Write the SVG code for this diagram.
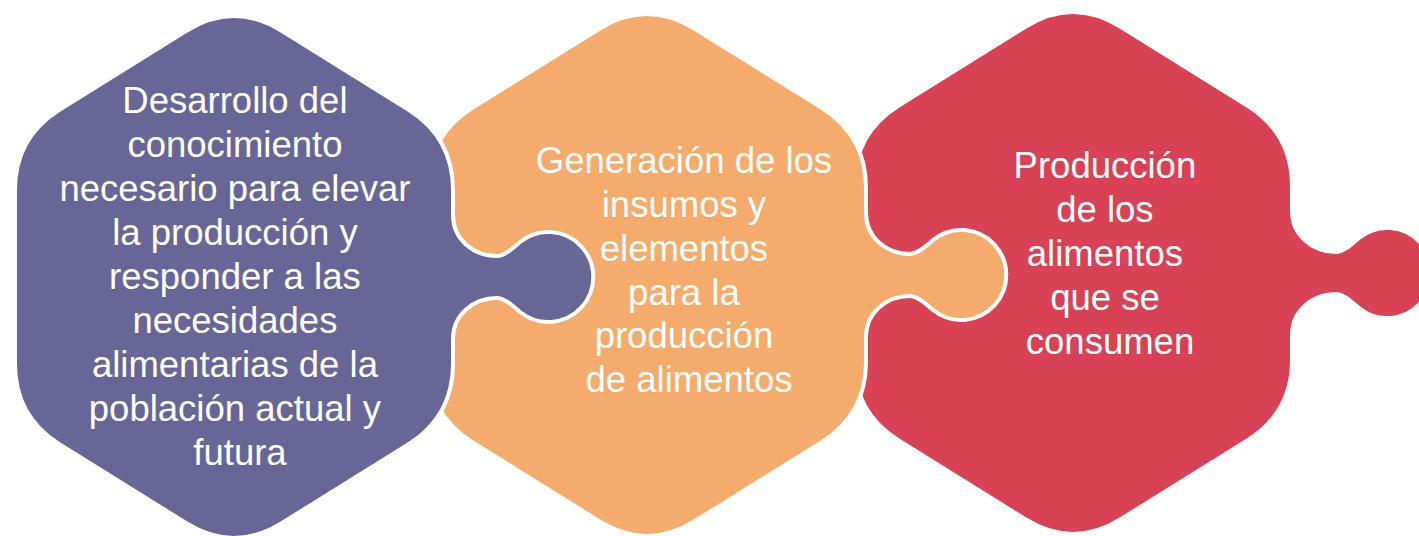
<svg xmlns="http://www.w3.org/2000/svg" width="1419" height="536" viewBox="0 0 1419 536">
  <style>
    .piece { stroke: #ffffff; stroke-width: 4; stroke-linejoin: round; }
    .purple { fill: #676697; }
    .orange { fill: #F4AB6B; }
    .red { fill: #D84254; }
    .label { font-family: "Liberation Sans", Arial, sans-serif; font-size: 36.5px; fill: #ffffff; text-anchor: middle; }
  </style>
  <defs>
    <path id="puzzle" d="M -48,-246 Q 0,-276 48,-246 L 175,-167 Q 219,-139 219,-87 L 219,-62 C 219,-38 239,-21 263,-21 C 271,-21 280,-30 286,-35 A 45 45 0 1 1 286,35 C 280,30 271,21 263,21 C 239,21 219,38 219,62 L 219,87 Q 219,139 175,167 L 48,246 Q 0,276 -48,246 L -175,167 Q -219,139 -219,87 L -219,-87 Q -219,-139 -175,-167 Z"/>
  </defs>
  <rect width="1419" height="536" fill="#ffffff"/>
  <g id="connectors"/>
  <g id="node-produccion">
    <use href="#puzzle" class="piece red" transform="translate(1073,273)"/>
    <text class="label">
      <tspan x="1110" y="178">Producción</tspan>
      <tspan x="1110" y="222">de los</tspan>
      <tspan x="1110" y="266">alimentos</tspan>
      <tspan x="1110" y="310">que se</tspan>
      <tspan x="1110" y="354">consumen</tspan>
    </text>
  </g>
  <g id="node-generacion">
    <use href="#puzzle" class="piece orange" transform="translate(647,275)"/>
    <text class="label">
      <tspan x="689" y="173">Generación de los</tspan>
      <tspan x="689" y="217">insumos y</tspan>
      <tspan x="689" y="261">elementos</tspan>
      <tspan x="689" y="305">para la</tspan>
      <tspan x="689" y="348">producción</tspan>
      <tspan x="689" y="392">de alimentos</tspan>
    </text>
  </g>
  <g id="node-desarrollo">
    <use href="#puzzle" class="piece purple" transform="translate(234,277)"/>
    <text class="label">
      <tspan x="240" y="113">Desarrollo del</tspan>
      <tspan x="240" y="157">conocimiento</tspan>
      <tspan x="240" y="201">necesario para elevar</tspan>
      <tspan x="240" y="245">la producción y</tspan>
      <tspan x="240" y="289">responder a las</tspan>
      <tspan x="240" y="333">necesidades</tspan>
      <tspan x="240" y="377">alimentarias de la</tspan>
      <tspan x="240" y="421">población actual y</tspan>
      <tspan x="240" y="465">futura</tspan>
    </text>
  </g>
</svg>
